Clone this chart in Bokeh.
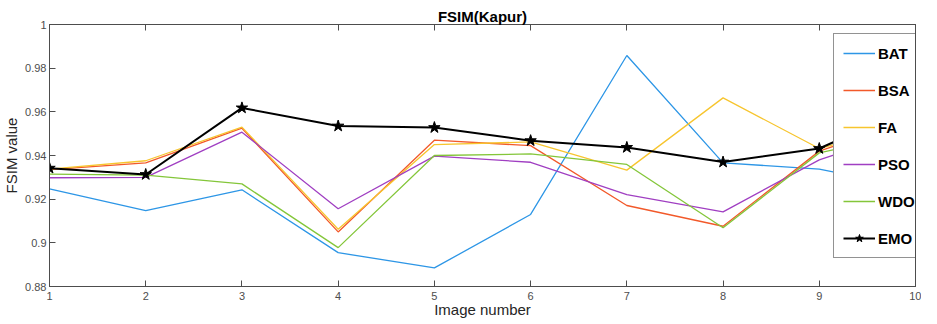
from bokeh.plotting import figure
from bokeh.models import (Range1d, FixedTicker, LinearAxis, CustomJSTickFormatter, Legend, LegendItem)
from bokeh.embed import file_html
from bokeh.resources import INLINE

images = [1, 2, 3, 4, 5, 6, 7, 8, 9, 10]
BAT = [0.9247, 0.9147, 0.9243, 0.8955, 0.8885, 0.9130, 0.9858, 0.9366, 0.9338, 0.9249]
BSA = [0.9335, 0.9366, 0.9525, 0.9050, 0.9470, 0.9445, 0.9171, 0.9076, 0.9420, 0.9570]
FA = [0.9338, 0.9376, 0.9530, 0.9062, 0.9450, 0.9462, 0.9333, 0.9664, 0.9432, 0.9553]
PSO = [0.9298, 0.9300, 0.9507, 0.9156, 0.9397, 0.9369, 0.9221, 0.9142, 0.9380, 0.9527]
WDO = [0.9315, 0.9310, 0.9270, 0.8978, 0.9400, 0.9407, 0.9359, 0.9069, 0.9412, 0.9508]
EMO = [0.9342, 0.9313, 0.9618, 0.9535, 0.9528, 0.9468, 0.9437, 0.9370, 0.9432, 0.9628]

x_ticks = [1, 2, 3, 4, 5, 6, 7, 8, 9, 10]
y_ticks = [0.88, 0.90, 0.92, 0.94, 0.96, 0.98, 1.0]

FONT = "Liberation Sans"
AX = "#4D4D4D"

p = figure(width=921, height=320, output_backend="svg", toolbar_location=None,
           x_range=Range1d(1, 10), y_range=Range1d(0.88, 1.0),
           x_axis_location=None, y_axis_location=None)
p.min_border = 0
p.min_border_left = 43
p.min_border_right = 6
p.min_border_top = 24
p.min_border_bottom = 34
p.grid.visible = False
p.outline_line_color = AX
p.outline_line_width = 1
p.background_fill_color = "white"
p.border_fill_color = "white"

p.title.text = "FSIM(Kapur)"
p.title.align = "center"
p.title.text_font = FONT
p.title.text_font_size = "15px"
p.title.text_font_style = "bold"
p.title.text_color = "#000000"
p.title.standoff = 0
p.title.offset = 0

fmt = CustomJSTickFormatter(code="return String(+tick.toFixed(2));")
blank = CustomJSTickFormatter(code="return '';")

def mk_axis(ticks, label=None, show_labels=True):
    ax = LinearAxis(ticker=FixedTicker(ticks=ticks), formatter=fmt if show_labels else blank)
    ax.axis_line_color = AX
    ax.major_tick_line_color = AX
    ax.major_tick_in = 6
    ax.major_tick_out = 0
    ax.minor_tick_line_color = None
    ax.major_label_text_font = FONT
    ax.major_label_text_font_size = "11px"
    ax.major_label_text_color = AX
    if label:
        ax.axis_label = label
        ax.axis_label_text_font = FONT
        ax.axis_label_text_font_size = "15px"
        ax.axis_label_text_font_style = "normal"
        ax.axis_label_text_color = "#262626"
    return ax

xb = mk_axis(x_ticks, "Image number")
xb.major_label_standoff = 5
xb.axis_label_standoff = -2
p.add_layout(xb, "below")

yl = mk_axis(y_ticks, "FSIM value")
yl.major_label_standoff = 3
yl.axis_label_standoff = 2
p.add_layout(yl, "left")

xt = mk_axis(x_ticks, show_labels=False)
xt.major_label_standoff = 0
p.add_layout(xt, "above")

yr = mk_axis(y_ticks, show_labels=False)
yr.major_label_standoff = 0
p.add_layout(yr, "right")

series = [("BAT", BAT, "#2D96E6", 1.3), ("BSA", BSA, "#F2592A", 1.3),
          ("FA", FA, "#F7C52E", 1.3), ("PSO", PSO, "#A03FC2", 1.3),
          ("WDO", WDO, "#84C63A", 1.3)]
items = []
for name, vals, col, w in series:
    r = p.line(images, vals, line_color=col, line_width=w)
    items.append(LegendItem(label=name, renderers=[r]))

r_emo = p.line(images, EMO, line_color="black", line_width=2)
s_emo = p.scatter(images, EMO, marker="star", size=12, fill_color="black", line_color="black")
items.append(LegendItem(label="EMO", renderers=[r_emo, s_emo]))

leg = Legend(items=items, location=(784, 28))
leg.margin = 0
leg.padding = 9
leg.spacing = 17
leg.glyph_width = 32
leg.glyph_height = 20
leg.label_height = 20
leg.label_standoff = 3
leg.label_text_font = FONT
leg.label_text_font_size = "15px"
leg.label_text_font_style = "bold"
leg.label_text_color = "#000000"
leg.border_line_color = "#262626"
leg.border_line_width = 1
leg.background_fill_color = "white"
leg.background_fill_alpha = 1.0
p.add_layout(leg, "center")

open("out.html", "w").write(file_html(p, INLINE))
